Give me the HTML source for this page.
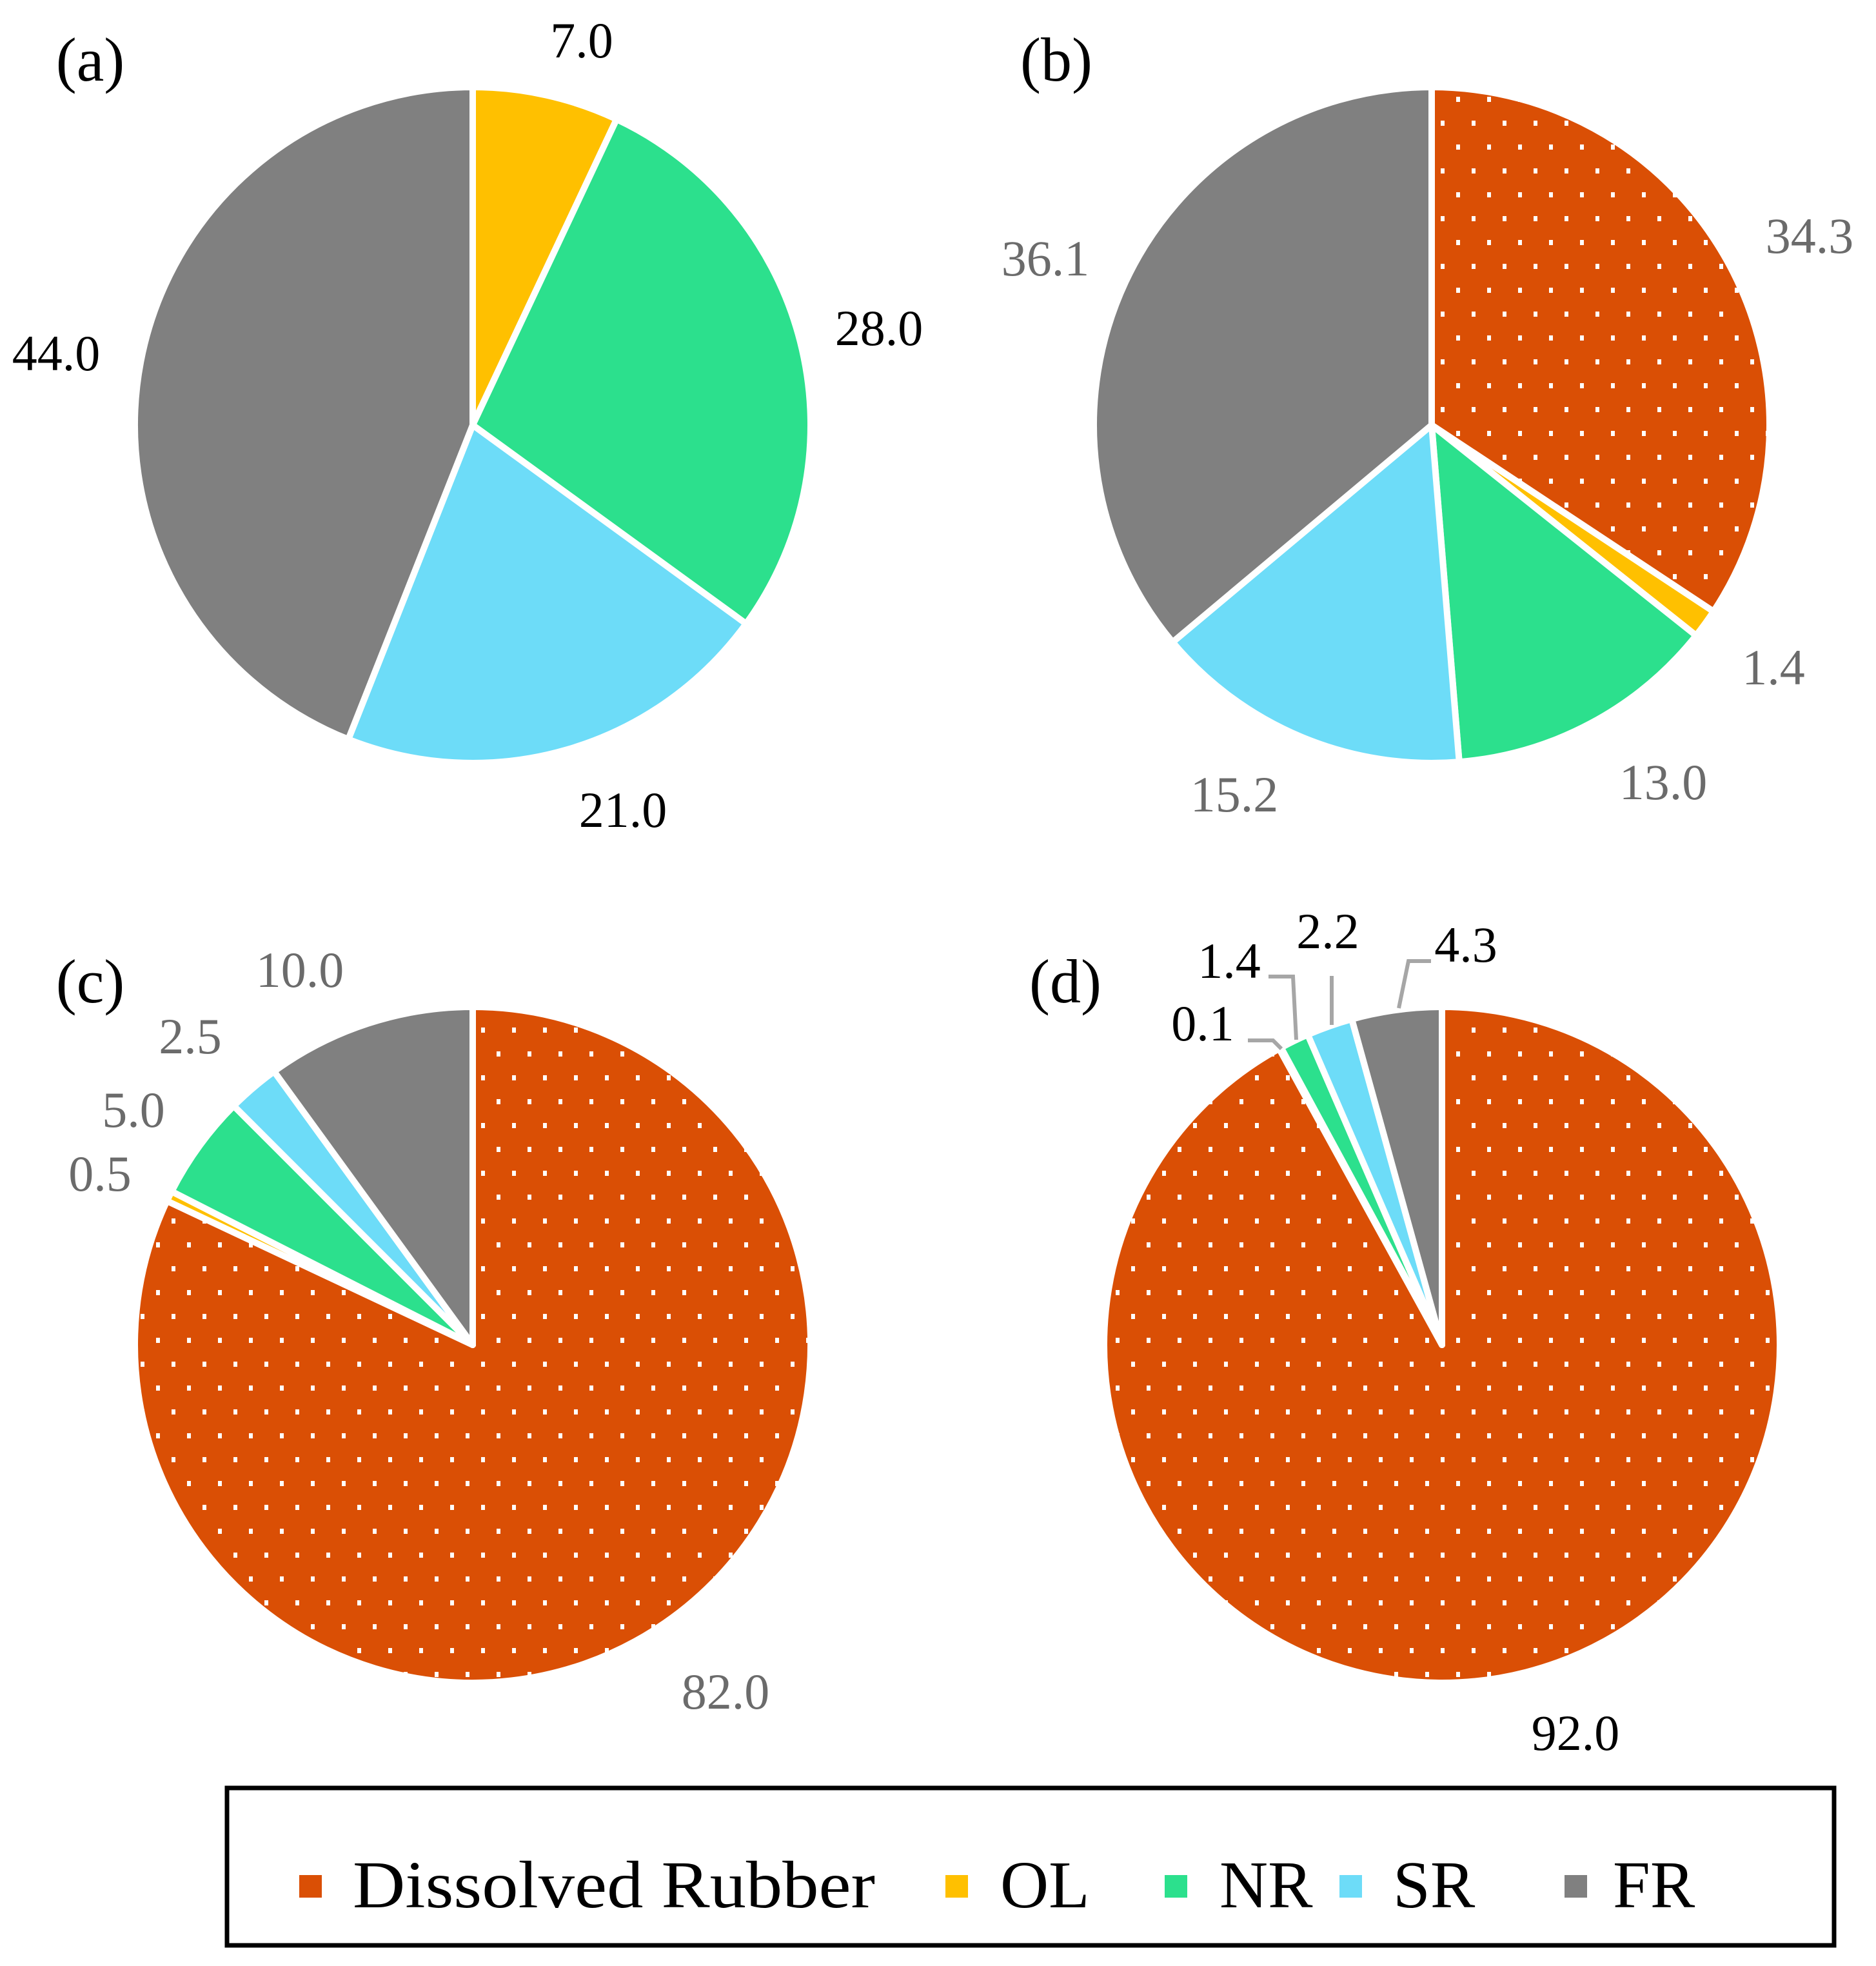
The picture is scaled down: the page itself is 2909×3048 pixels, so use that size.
<!DOCTYPE html>
<html><head><meta charset="utf-8"><style>
html,body{margin:0;padding:0;background:#fff}
svg{display:block}
text{font-family:"Liberation Serif",serif}
</style></head><body>
<svg id="chart" width="2909" height="3048" viewBox="0 0 2909 3048">
<defs>
<pattern id="dots" width="48" height="74" patternUnits="userSpaceOnUse">
<rect width="48" height="74" fill="#da4f05"/>
<rect x="2" y="2" width="6" height="8" fill="#fff"/>
<rect x="26" y="39" width="6" height="8" fill="#fff"/>
</pattern>
</defs>
<g id="pies"></g>
<g id="leaders" stroke="#a6a6a6" stroke-width="6" fill="none">
<polyline points="1935,1613 1974,1613 1987,1626"/>
<polyline points="1967,1514 2005,1514 2010,1612"/>
<polyline points="2065,1513 2065,1589"/>
<polyline points="2219,1490 2184,1490 2169,1563"/>
</g>
<rect x="352" y="2772" width="2492" height="244" fill="none" stroke="#000" stroke-width="7"/>
<g id="legend"></g>
</svg>
<script>
const categories = ["Dissolved Rubber","OL","NR","SR","FR"];
const colors = ["url(#dots)","#ffc000","#2ce08d","#6ddcf8","#808080"];
const panelNames = ["(a)","(b)","(c)","(d)"];
const valuesA = [0, 7.0, 28.0, 21.0, 44.0];
const valuesB = [34.3, 1.4, 13.0, 15.2, 36.1];
const valuesC = [82.0, 0.5, 5.0, 2.5, 10.0];
const valuesD = [92.0, 0.1, 1.4, 2.2, 4.3];
const labelsA = ["", "7.0", "28.0", "21.0", "44.0"];
const labelsB = ["34.3", "1.4", "13.0", "15.2", "36.1"];
const labelsC = ["82.0", "0.5", "5.0", "2.5", "10.0"];
const labelsD = ["92.0", "0.1", "1.4", "2.2", "4.3"];

const NS = "http://www.w3.org/2000/svg";
const R = 524;
const panels = [
  {vals: valuesA, labs: labelsA, cx: 733, cy: 659, lc: "#000", letter: [140,93],
   pos: [null,[902,62],[1363,508],[966,1255],[87,547]]},
  {vals: valuesB, labs: labelsB, cx: 2220, cy: 659, lc: "#6b6b6b", letter: [1638,93],
   pos: [[2806,365],[2750,1034],[2579,1212],[1914,1231],[1621,400]]},
  {vals: valuesC, labs: labelsC, cx: 733, cy: 2085, lc: "#6b6b6b", letter: [140,1522],
   pos: [[1125,2622],[155,1819],[207,1720],[295,1606],[465,1503]]},
  {vals: valuesD, labs: labelsD, cx: 2236, cy: 2085, lc: "#000", letter: [1652,1522],
   pos: [[2443,2686],[1865,1586],[1906,1489],[2059,1443],[2273,1464]]}
];
const g = document.getElementById("pies");
function pt(cx, cy, a){ return [cx + R*Math.sin(a), cy - R*Math.cos(a)]; }
panels.forEach((p, pi) => {
  const total = p.vals.reduce((s,v)=>s+v,0);
  let a = 0;
  p.vals.forEach((v, i) => {
    if (v <= 0) return;
    const a2 = a + v/total*2*Math.PI;
    const s = pt(p.cx,p.cy,a), e = pt(p.cx,p.cy,a2);
    const large = (a2-a) > Math.PI ? 1 : 0;
    const path = document.createElementNS(NS,"path");
    path.setAttribute("d", `M${p.cx},${p.cy} L${s[0]},${s[1]} A${R},${R} 0 ${large} 1 ${e[0]},${e[1]} Z`);
    path.setAttribute("fill", colors[i]);
    path.setAttribute("stroke", "#fff");
    path.setAttribute("stroke-width", "10");
    path.setAttribute("stroke-linejoin", "round");
    
    
    g.appendChild(path);
    a = a2;
  });
  p.labs.forEach((l, i) => {
    if (!l) return;
    const t = document.createElementNS(NS,"text");
    t.setAttribute("x", p.pos[i][0]); t.setAttribute("y", p.pos[i][1] + 27);
    t.setAttribute("text-anchor","middle"); t.setAttribute("font-size","78");
    t.setAttribute("fill", p.lc);
    t.textContent = l;
    
    
    g.appendChild(t);
  });
  const L = document.createElementNS(NS,"text");
  L.setAttribute("x", p.letter[0]); L.setAttribute("y", p.letter[1] + 32);
  L.setAttribute("text-anchor","middle"); L.setAttribute("font-size","96");
  L.textContent = panelNames[pi];
  
  
  g.appendChild(L);
});
const lg = document.getElementById("legend");
const sqX = [481,1483,1823,2094,2443];
const txX = [547,1551,1891,2160,2501];
categories.forEach((c, i) => {
  const r = document.createElementNS(NS,"rect");
  r.setAttribute("x", sqX[i]-17); r.setAttribute("y", 2907);
  r.setAttribute("width", 35); r.setAttribute("height", 35);
  r.setAttribute("fill", colors[i]);
  
  
  lg.appendChild(r);
  const t = document.createElementNS(NS,"text");
  t.setAttribute("x", txX[i]); t.setAttribute("y", 2957);
  t.setAttribute("font-size","104");
  if (i === 0) {
    t.setAttribute("textLength", "810");
    t.setAttribute("lengthAdjust", "spacingAndGlyphs");
  }
  t.textContent = c;
  
  
  lg.appendChild(t);
});
</script>
</body></html>
